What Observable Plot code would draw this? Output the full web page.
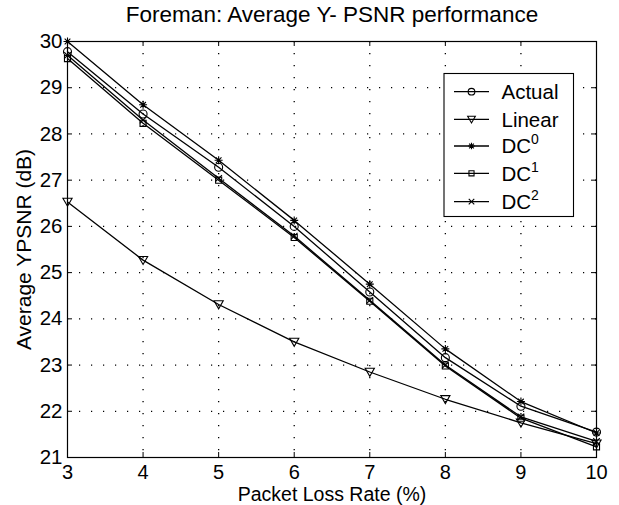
<!DOCTYPE html>
<html>
<head>
<meta charset="utf-8">
<script src="https://cdn.jsdelivr.net/npm/d3@7"></script>
<script src="https://cdn.jsdelivr.net/npm/@observablehq/plot@0.6"></script>
<style>
  html, body { margin: 0; padding: 0; background: #fff; }
  svg { display: block; }
</style>
</head>
<body>
<div id="chart"></div>
<script>
const title = "Foreman: Average Y- PSNR performance";
const xLabel = "Packet Loss Rate (%)";
const yLabel = "Average YPSNR (dB)";
const lossRate = [3, 4, 5, 6, 7, 8, 9, 10];
const actual = [29.78, 28.43, 27.28, 26.00, 24.58, 23.16, 22.11, 21.55];
const linear = [26.53, 25.27, 24.31, 23.50, 22.85, 22.26, 21.75, 21.30];
const dc0    = [30.00, 28.63, 27.43, 26.13, 24.75, 23.35, 22.21, 21.53];
const dc1    = [29.63, 28.23, 27.00, 25.76, 24.38, 22.98, 21.85, 21.23];
const dc2    = [29.70, 28.30, 27.04, 25.79, 24.40, 23.00, 21.88, 21.35];
const xTicks = [3, 4, 5, 6, 7, 8, 9, 10];
const yTicks = [21, 22, 23, 24, 25, 26, 27, 28, 29, 30];
const seriesNames = ["Actual", "Linear", "DC0", "DC1", "DC2"];
const seriesValues = [actual, linear, dc0, dc1, dc2];

// MATLAB-like marker shapes
const rad = s => Math.sqrt(s / Math.PI);
const symCircle = {draw(c, s) { const r = rad(s); c.moveTo(r, 0); c.arc(0, 0, r, 0, 2 * Math.PI); }};
const symTriDown = {draw(c, s) { const r = rad(s); c.moveTo(-r, -r * 0.8); c.lineTo(r, -r * 0.8); c.lineTo(0, r * 0.95); c.closePath(); }};
const symStar = {draw(c, s) { const r = rad(s), d = r * 0.707;
  c.moveTo(-r, 0); c.lineTo(r, 0); c.moveTo(0, -r); c.lineTo(0, r);
  c.moveTo(-d, -d); c.lineTo(d, d); c.moveTo(-d, d); c.lineTo(d, -d); }};
const symSquare = {draw(c, s) { const r = rad(s) * 0.8; c.rect(-r, -r, 2 * r, 2 * r); }};
const symX = {draw(c, s) { const r = rad(s) * 0.75;
  c.moveTo(-r, -r); c.lineTo(r, r); c.moveTo(-r, r); c.lineTo(r, -r); }};
const symbols = [symCircle, symTriDown, symStar, symSquare, symX];
const radii = [4.0, 4.6, 4.0, 3.8, 4.4];

const data = [];
seriesNames.forEach((name, i) => {
  lossRate.forEach((x, j) => data.push({series: name, x, y: seriesValues[i][j]}));
});

const W = 619, H = 505;
const mL = 67, mR = 23, mT = 41, mB = 48;
const frameW = W - mL - mR, frameH = H - mT - mB;
const tick = 5;
const font = "'Liberation Sans', Arial, Helvetica, sans-serif";

const marks = [
  Plot.gridX(xTicks.slice(1, -1), {stroke: "#000", strokeOpacity: 1, strokeWidth: 1.3, strokeDasharray: "1.2,10.8"}),
  Plot.gridY(yTicks.slice(1, -1), {stroke: "#000", strokeOpacity: 1, strokeWidth: 1.3, strokeDasharray: "1.2,10.8"}),
  Plot.axisX(xTicks, {tickSize: 0, tickPadding: 7, label: null, fontSize: 20}),
  Plot.axisY(yTicks, {tickSize: 0, tickPadding: 5, label: null, fontSize: 20.5}),
  // inward ticks on all four sides
  Plot.tickX(xTicks, {x: d => d, insetTop: frameH - tick, stroke: "#000"}),
  Plot.tickX(xTicks, {x: d => d, insetBottom: frameH - tick, stroke: "#000"}),
  Plot.tickY(yTicks, {y: d => d, insetRight: frameW - tick, stroke: "#000"}),
  Plot.tickY(yTicks, {y: d => d, insetLeft: frameW - tick, stroke: "#000"}),
  Plot.frame({stroke: "#000", strokeWidth: 1.2})
];
seriesNames.forEach((name, i) => {
  const d = data.filter(r => r.series === name);
  marks.push(Plot.line(d, {x: "x", y: "y", stroke: "#000", strokeWidth: 1.3}));
  marks.push(Plot.dot(d, {x: "x", y: "y", symbol: () => symbols[i], r: radii[i], stroke: "#000", fill: "none", strokeWidth: 1.1}));
});
marks.push(Plot.text([title], {frameAnchor: "top", dy: -27, fontSize: 22.5, fill: "#000", lineAnchor: "middle"}));
marks.push(Plot.text([xLabel], {frameAnchor: "bottom", dy: 37.5, fontSize: 19.5, fill: "#000", lineAnchor: "middle", textAnchor: "middle"}));
marks.push(Plot.text([yLabel], {frameAnchor: "left", dx: -43, rotate: -90, fontSize: 21, fill: "#000", lineAnchor: "middle", textAnchor: "middle"}));

const chart = Plot.plot({
  width: W, height: H,
  marginLeft: mL, marginRight: mR, marginTop: mT, marginBottom: mB,
  style: {fontFamily: font, fontSize: "20.5px", color: "#000", background: "#fff", overflow: "visible"},
  x: {domain: [3, 10]},
  y: {domain: [21, 30]},
  marks
});

// Legend
const svg = d3.select(chart);
const lg = svg.append("g").attr("font-family", font).attr("font-size", 20.5).attr("text-anchor", "start");
lg.append("rect").attr("x", 444).attr("y", 73.5).attr("width", 129.5).attr("height", 143)
  .attr("fill", "#fff").attr("stroke", "#000").attr("stroke-width", 1.1);
const rowY = [91.7, 119.3, 146, 173.3, 201.7];
seriesNames.forEach((name, i) => {
  const y = rowY[i];
  lg.append("line").attr("x1", 454).attr("x2", 489).attr("y1", y).attr("y2", y).attr("stroke", "#000").attr("stroke-width", 1.3);
  const path = d3.path();
  symbols[i].draw(path, Math.PI * radii[i] * radii[i] * 0.7);
  lg.append("path").attr("d", path.toString()).attr("transform", `translate(471.5,${y})`)
    .attr("fill", "none").attr("stroke", "#000").attr("stroke-width", 1.1);
  const t = lg.append("text").attr("x", 501.5).attr("y", y).attr("dy", "0.36em").attr("fill", "#000").attr("text-anchor", "start");
  if (name.startsWith("DC")) {
    t.append("tspan").text("DC");
    t.append("tspan").text(name.slice(2)).attr("font-size", 14).attr("dy", "-0.65em");
  } else {
    t.text(name);
  }
});

document.getElementById("chart").appendChild(chart);
</script>
</body>
</html>
